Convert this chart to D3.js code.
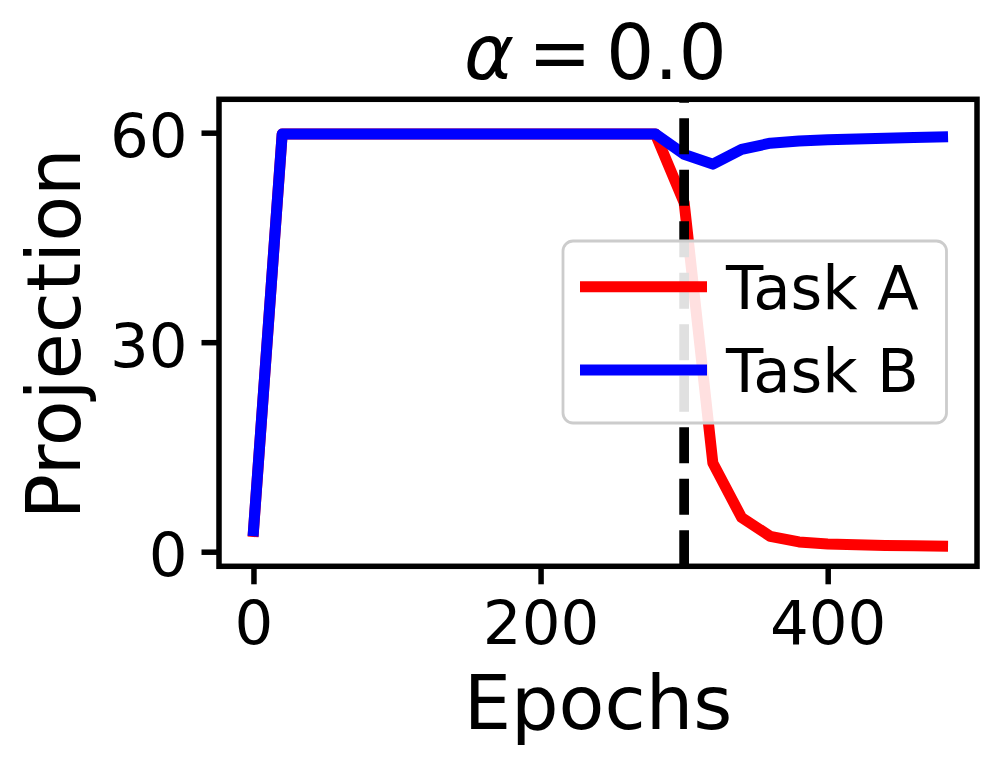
<!DOCTYPE html>
<html>
<head>
<meta charset="utf-8">
<script src="https://cdn.jsdelivr.net/npm/d3@7"></script>
<style>
  html, body { margin: 0; padding: 0; background: #fff; }
  svg { display: block; font-family: "DejaVu Sans", sans-serif; }
</style>
</head>
<body>
<svg id="chart" width="997" height="766"></svg>
<script>
// ---- data ----
const epochs = [0, 20, 40, 60, 80, 100, 120, 140, 160, 180, 200, 220, 240,
                260, 280, 300, 320, 340, 360, 380, 400, 420, 440, 460, 480];
const taskA = [2.9, 59.8, 59.8, 59.8, 59.8, 59.8, 59.8, 59.8, 59.8, 59.8, 59.8, 59.8, 59.8,
               59.8, 59.8, 50.0, 12.7, 4.9, 2.2, 1.4, 1.1, 1.0, 0.9, 0.85, 0.8];
const taskB = [3.0, 59.8, 59.8, 59.8, 59.8, 59.8, 59.8, 59.8, 59.8, 59.8, 59.8, 59.8, 59.8,
               59.8, 59.8, 56.9, 55.5, 57.6, 58.5, 58.8, 59.0, 59.1, 59.2, 59.3, 59.4];
const switchEpoch = [300];
const xTicks = [0, 200, 400];
const yTicks = [0, 30, 60];
const seriesNames = ["Task A", "Task B"];
const seriesColors = ["#ff0000", "#0000ff"];
const titleParts = ["α", "=", "0.0"];
const xLabel = "Epochs";
const yLabel = "Projection";

// ---- layout ----
const L = 219, R = 977, T = 99.3, B = 566.3;
const svg = d3.select("#chart");

const x = d3.scaleLinear().domain([-24, 504]).range([L, R]);
const y = d3.scaleLinear().domain([-2.09, 64.78]).range([B, T]);

// ---- lines ----
const series = [taskA, taskB];
const line = d3.line().x((d, i) => x(epochs[i])).y(d => y(d));
series.forEach((s, k) => {
  svg.append("path")
    .datum(s)
    .attr("d", line)
    .attr("fill", "none")
    .attr("stroke", seriesColors[k])
    .attr("stroke-width", 11)
    .attr("stroke-linejoin", "round")
    .attr("stroke-linecap", "square");
});

// ---- dashed vertical line (drawn bottom to top) ----
svg.selectAll("path.vline")
  .data(switchEpoch)
  .enter().append("path")
  .attr("class", "vline")
  .attr("d", d => `M${x(d)},${B}L${x(d)},${T}`)
  .attr("stroke", "#000")
  .attr("stroke-width", 9.7)
  .attr("stroke-dasharray", "36,15.5")
  .attr("fill", "none");

// ---- legend ----
const lg = svg.append("g");
lg.append("rect")
  .attr("x", 563).attr("y", 241)
  .attr("width", 383.5).attr("height", 182)
  .attr("rx", 10).attr("ry", 10)
  .attr("fill", "#fff").attr("fill-opacity", 0.88)
  .attr("stroke", "#cccccc").attr("stroke-width", 2.8);
seriesNames.forEach((name, k) => {
  const cy = 286.7 + k * 83.3;
  lg.append("line")
    .attr("x1", 580).attr("x2", 707)
    .attr("y1", cy).attr("y2", cy)
    .attr("stroke", seriesColors[k])
    .attr("stroke-width", 11);
  lg.append("text")
    .attr("x", 726).attr("y", cy + 22)
    .attr("font-size", 61)
    .attr("fill", "#000")
    .text(name);
});

// ---- axes ----
const xAxis = svg.append("g")
  .attr("transform", `translate(0,${B})`)
  .call(d3.axisBottom(x).tickValues(xTicks).tickSize(18).tickFormat(d3.format("d")));
xAxis.select(".domain").remove();
xAxis.selectAll(".tick line").attr("stroke", "#000").attr("stroke-width", 5.5);
xAxis.selectAll(".tick text")
  .attr("y", 77.5).attr("dy", null)
  .attr("font-size", 61)
  .attr("font-family", "DejaVu Sans")
  .attr("fill", "#000");

const yAxis = svg.append("g")
  .attr("transform", `translate(${L},0)`)
  .call(d3.axisLeft(y).tickValues(yTicks).tickSize(17.5).tickFormat(d3.format("d")));
yAxis.select(".domain").remove();
yAxis.selectAll(".tick line").attr("stroke", "#000").attr("stroke-width", 5.5);
yAxis.selectAll(".tick text")
  .attr("x", -31.5).attr("dy", null).attr("y", 24)
  .attr("font-size", 61)
  .attr("font-family", "DejaVu Sans")
  .attr("fill", "#000");

// ---- spines ----
svg.append("rect")
  .attr("x", L).attr("y", T)
  .attr("width", R - L).attr("height", B - T)
  .attr("fill", "none")
  .attr("stroke", "#000")
  .attr("stroke-width", 5.5)
  .attr("stroke-linejoin", "miter");

// ---- title ----
const title = svg.append("text")
  .attr("y", 79)
  .attr("font-size", 76)
  .attr("fill", "#000");
title.append("tspan").attr("x", 464).attr("font-style", "italic").text(titleParts[0]);
title.append("tspan").attr("x", 528).text(titleParts[1]);
title.append("tspan").attr("x", 606).text(titleParts[2]);

// ---- axis labels ----
svg.append("text")
  .attr("x", (L + R) / 2).attr("y", 728.5)
  .attr("text-anchor", "middle")
  .attr("font-size", 75)
  .attr("fill", "#000")
  .text(xLabel);

svg.append("text")
  .attr("transform", `translate(80,${(T + B) / 2 + 1}) rotate(-90)`)
  .attr("text-anchor", "middle")
  .attr("font-size", 75)
  .attr("fill", "#000")
  .text(yLabel);
</script>
</body>
</html>
